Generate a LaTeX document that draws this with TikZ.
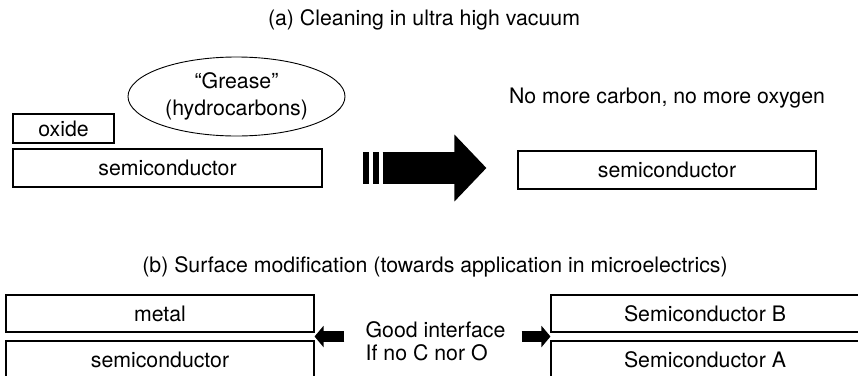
\documentclass[tikz,border=0pt]{standalone}
\usepackage{fontspec}
\setmainfont{TeX Gyre Heros}
\usetikzlibrary{positioning,calc,arrows.meta,shapes.geometric}
\tikzset{
  layer/.style={draw, line width=1.1pt, minimum width=308pt, minimum height=37pt, inner sep=0pt},
  fatarrow/.style={line width=11pt, -{Triangle[length=9pt,width=21pt]}},
}

\begin{document}
\begin{tikzpicture}[x=1pt,y=-1pt, font=\fontsize{21.3}{25}\selectfont]
\useasboundingbox (0,0) rectangle (858,375);
\clip (0,0) rectangle (858,375);

% (a) cleaning
\node (titleA) at (424,20) {(a) Cleaning in ultra high vacuum};
\node[layer, minimum width=309pt, minimum height=38pt] (semiL) at (167.5,168) {semiconductor};
\node[layer, minimum width=101pt, minimum height=29pt] (oxide) at (63.5,128.5) {oxide};
\node[ellipse, draw, line width=0.9pt, minimum width=217pt, minimum height=79pt, inner sep=0pt, align=center,
      font=\fontsize{21.3}{27}\selectfont] (grease) at (236.5,96.5) {“Grease”\\(hydrocarbons)};
\node[layer, minimum width=298pt, minimum height=38pt] (semiR) at (667,170) {semiconductor};
\node (nomore) at (667,98) {No more carbon, no more oxygen};
\draw[line width=32pt, -{Triangle[length=32pt,width=65pt]}, shorten <=60pt, shorten >=31pt]
  (semiL.east) -- (semiL.east -| semiR.west);
\foreach \bx in {363,373}
  \fill (\bx,152) rectangle ++(6,32);

% (b) surface modification
\node (titleB) at (435,267) {(b) Surface modification (towards application in microelectrics)};
\node[layer] (metal) at (160,313.5) {metal};
\node[layer, minimum height=38pt] (semiB) at (160,360) {semiconductor};
\node[layer] (semB) at (705,313.5) {Semiconductor B};
\node[layer, minimum height=38pt] (semA) at (705,360) {Semiconductor A};
\node[align=left, inner sep=0pt, font=\fontsize{21.3}{23}\selectfont] (note) at (435.5,341) {Good interface\\If no C nor O};
\coordinate (gapL) at ($(metal.south east)!0.5!(semiB.north east)$);
\coordinate (gapR) at ($(semB.south west)!0.5!(semA.north west)$);
\draw[fatarrow, shorten <=21pt] (note.west |- gapL) -- (gapL);
\draw[fatarrow, shorten <=16pt] (note.east |- gapR) -- (gapR);
\end{tikzpicture}
\end{document}
